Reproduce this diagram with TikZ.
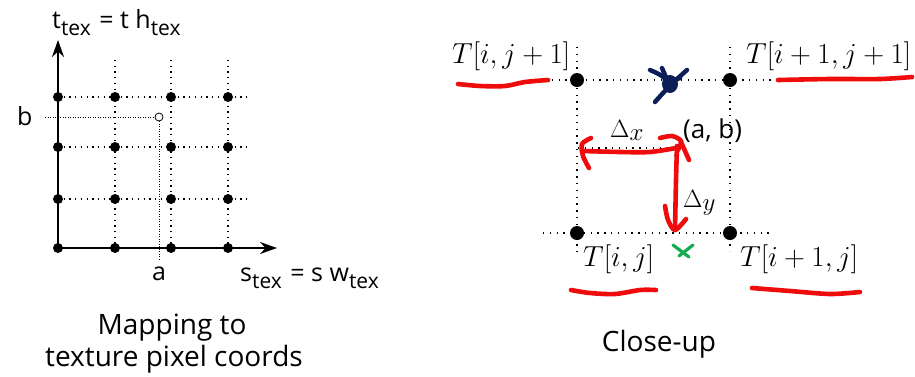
\RequirePackage{fix-cm}
\documentclass[tikz,border=0pt]{standalone}
\usepackage[no-math]{fontspec}
\setmainfont{Open Sans}
\usetikzlibrary{arrows.meta}
\newcommand{\mysub}[1]{\raisebox{-7pt}{\fontsize{21}{24}\selectfont #1}}
\definecolor{inkred}{RGB}{238,12,12}
\definecolor{inkblue}{RGB}{12,30,88}
\definecolor{inkgreen}{RGB}{20,170,80}
\begin{document}
\begin{tikzpicture}[x=1pt,y=-1pt,
  gdot/.style={circle,fill=black,inner sep=0pt,minimum size=10pt},
  cdot/.style={circle,fill=black,inner sep=0pt,minimum size=14pt},
  gridline/.style={line width=1.3pt,dash pattern=on 1.3pt off 4.4pt},
  fineline/.style={line width=0.9pt,dash pattern=on 0.9pt off 1.6pt},
  closeline/.style={line width=1.4pt,dash pattern=on 1.4pt off 5.4pt},
  axisline/.style={line width=2pt,-{Stealth[length=17pt,width=12pt]}},
  sans/.style={font=\fontsize{25}{28}\selectfont,inner sep=0pt},
  capt/.style={font=\fontsize{28}{32}\selectfont,inner sep=0pt},
  mathlbl/.style={font=\fontsize{29}{34}\selectfont,inner sep=0pt},
  smalllbl/.style={font=\fontsize{25}{28}\selectfont,inner sep=0pt},
  redink/.style={draw=inkred,line width=4.6pt,line cap=round,line join=round},
  blueink/.style={draw=inkblue,line width=4.5pt,line cap=round,line join=round},
  greenink/.style={draw=inkgreen,line width=3.2pt,line cap=round}]
\useasboundingbox (0,0) rectangle (915,376);

% ---------- left panel ----------
\foreach \i/\x in {0/58,1/115,2/171,3/228}{
  \foreach \j/\y in {0/248,1/199,2/147,3/97}{
    \coordinate (p\i\j) at (\x,\y);
  }}
\coordinate (ytip) at (58,40);
\coordinate (xtip) at (277,248);
\foreach \i/\x in {1/115,2/171,3/228}{
  \coordinate (vt\i) at (\x,60);
  \draw[gridline] (vt\i) -- (p\i0);
}
\foreach \j/\y in {1/199,2/147,3/97}{
  \coordinate (he\j) at (250,\y);
  \draw[gridline] (p0\j) -- (he\j);
}
\node[circle,draw,line width=0.8pt,minimum size=8pt,inner sep=0pt] (ab) at (159,117) {};
\coordinate (bl) at (45,117);
\coordinate (ab0) at (159,259);
\draw[fineline] (bl) -- (ab.west);
\draw[fineline] (ab.south) -- (ab0);
\draw[axisline] (p00) -- (ytip);
\draw[axisline] (p00) -- (xtip);
\foreach \i in {0,1,2,3}{\foreach \j in {0,1,2,3}{\node[gdot] (d\i\j) at (p\i\j) {};}}

\node[sans,anchor=base west] (ttex) at (52,28) {t\mysub{tex}\hspace{2pt} = t h\mysub{tex}};
\node[sans,anchor=base west] (stex) at (240,281) {s\mysub{tex}\hspace{2pt} = s w\mysub{tex}};
\node[sans,anchor=base west] (blbl) at (17,125) {b};
\node[sans,anchor=base] (albl) at (159,280) {a};
\node[capt,anchor=base] (cap1) at (172,334) {Mapping to};
\node[capt,anchor=base] (cap2) at (174,366) {texture pixel coords};

% ---------- right panel ----------
\coordinate (c00) at (577,233);
\coordinate (c10) at (730,233);
\coordinate (c01) at (577,80);
\coordinate (c11) at (730,80);
\coordinate (P) at (675,148);
\coordinate (tl) at (545,80);  \coordinate (tr) at (776,80);
\coordinate (bl2) at (543,233); \coordinate (br) at (771,233);
\coordinate (lt) at (577,47);  \coordinate (lb) at (577,254);
\coordinate (rt) at (730,47);  \coordinate (rb) at (730,251);
\coordinate (Pl) at (578,148); \coordinate (Pb) at (675,233);
\draw[closeline] (tl) -- (tr);
\draw[closeline] (bl2) -- (br);
\draw[closeline] (lt) -- (lb);
\draw[closeline] (rt) -- (rb);
\draw[closeline] (Pl) -- (P);
\draw[closeline] (P) -- (Pb);
\node[cdot] (n00) at (c00) {};
\node[cdot] (n10) at (c10) {};
\node[cdot] (n01) at (c01) {};
\node[cdot] (n11) at (c11) {};

\node[mathlbl,anchor=base west] (T01) at (452,63) {$T[i,j+1]$};
\node[mathlbl,anchor=base west] (T11) at (746,63) {$T[i+1,j+1]$};
\node[mathlbl,anchor=base west] (T00) at (583,266) {$T[i,j]$};
\node[mathlbl,anchor=base west] (T10) at (740,266) {$T[i+1,j]$};
\node[smalllbl,anchor=base west] (dx) at (610,137) {$\Delta_{\textstyle x}$};
\node[smalllbl,anchor=base west] (dy) at (683,207) {$\Delta_{\textstyle y}$};
\node[font=\fontsize{26}{30}\selectfont,inner sep=0pt,anchor=base west] (ablbl) at (683,138) {(a, b)};
\node[capt,anchor=base] (close) at (659,351) {Close-up};

% red ink
\draw[redink] plot[smooth] coordinates {(676,148) (650,152) (620,152) (583,151)};
\draw[redink] plot[smooth] coordinates {(591,138) (582,144) (583,156) (589,168)};
\draw[redink] plot[smooth] coordinates {(660,138) (672,136) (681,141) (678,150)};
\draw[redink] plot[smooth] coordinates {(677,146) (676,180) (675,230)};
\draw[redink] plot[smooth] coordinates {(665,206) (668,220) (675,230) (686,219)};
\draw[redink] (681,142) -- (689,160);
\draw[redink] plot[smooth] coordinates {(458,84) (480,86) (505,86) (525,82) (548,80)};
\draw[redink] plot[smooth] coordinates {(778,80) (830,79) (880,79) (912,77)};
\draw[redink] plot[smooth] coordinates {(571,290) (590,293) (615,294) (640,290) (656,290)};
\draw[redink] plot[smooth] coordinates {(752,288) (790,291) (830,294) (860,292)};

% blue scribble
\draw[blueink] plot[smooth] coordinates {(650,70) (662,76) (672,86)};
\draw[blueink] plot[smooth] coordinates {(687,70) (676,80) (664,92) (655,102)};
\draw[blueink] (662,68) -- (668,82) -- (680,78);
\fill[inkblue] (670,84) ellipse (8pt and 9pt);

% green mark
\draw[greenink] (673,245) -- (689,257);
\draw[greenink] (693,245) -- (679,256);
\end{tikzpicture}
\end{document}
